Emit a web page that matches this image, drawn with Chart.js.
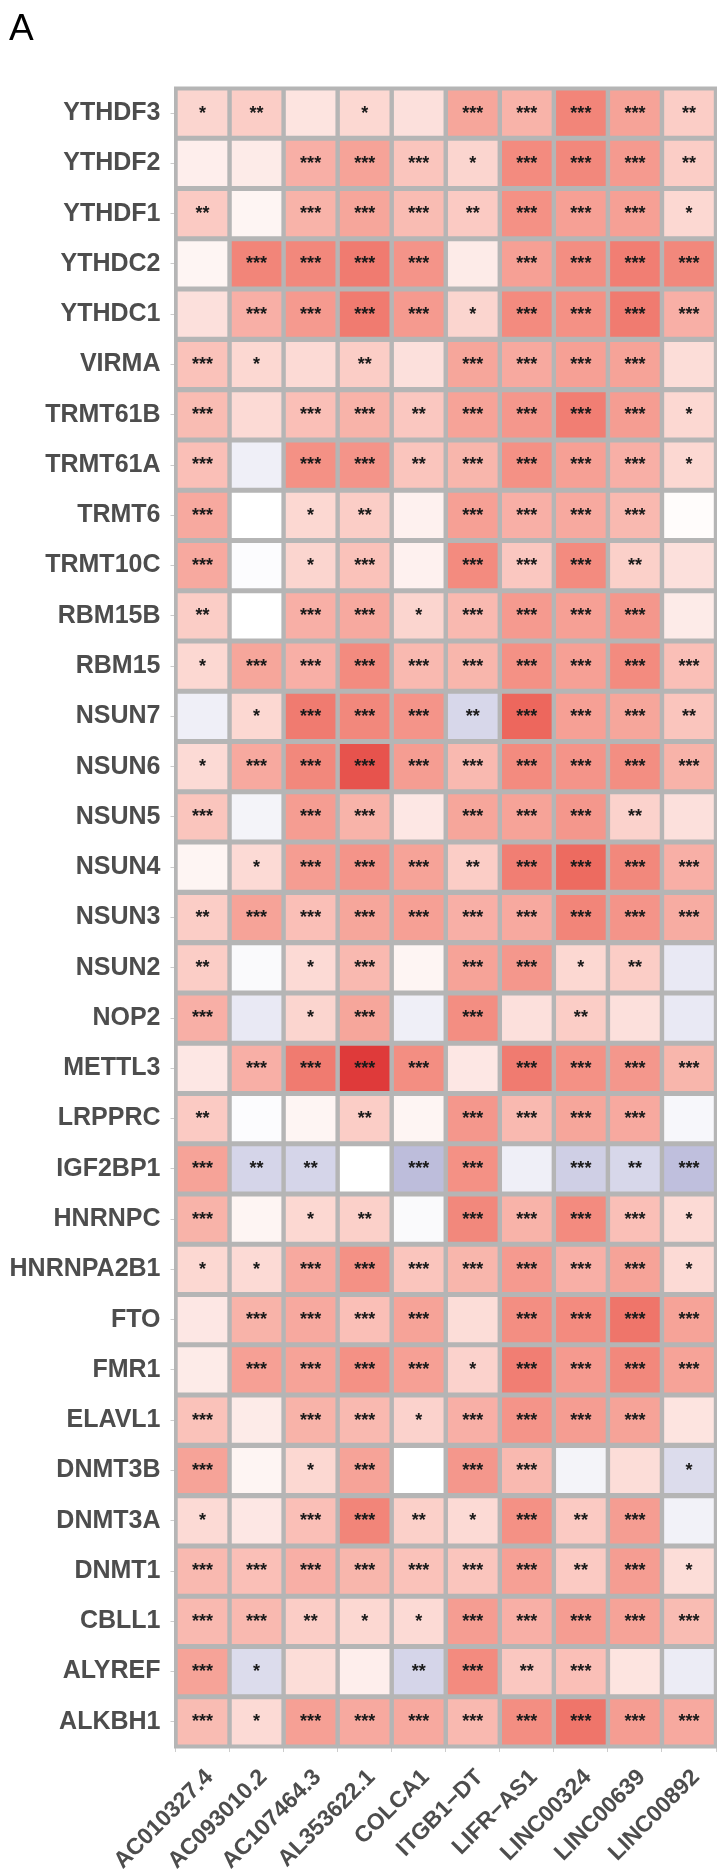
<!DOCTYPE html>
<html lang="en">
  <head>
    <meta charset="UTF-8" />
    <title>m6A regulators vs lncRNAs</title>
    <script src="https://cdn.jsdelivr.net/npm/chart.js@4.4.1/dist/chart.umd.min.js"></script>
    <style>
      body {
        margin: 0;
        background: #ffffff;
      }
      #wrap {
        width: 717px;
        height: 1871px;
      }
    </style>
  </head>
  <body>
    <div id="wrap"><canvas id="heat" width="717" height="1871"></canvas></div>
    <script>
      const cols = [
        "AC010327.4", "AC093010.2", "AC107464.3", "AL353622.1", "COLCA1",
        "ITGB1\u2212DT", "LIFR\u2212AS1", "LINC00324", "LINC00639", "LINC00892",
      ];

      const rows = [
        "YTHDF3", "YTHDF2", "YTHDF1", "YTHDC2", "YTHDC1", "VIRMA", "TRMT61B",
        "TRMT61A", "TRMT6", "TRMT10C", "RBM15B", "RBM15", "NSUN7", "NSUN6",
        "NSUN5", "NSUN4", "NSUN3", "NSUN2", "NOP2", "METTL3", "LRPPRC",
        "IGF2BP1", "HNRNPC", "HNRNPA2B1", "FTO", "FMR1", "ELAVL1", "DNMT3B",
        "DNMT3A", "DNMT1", "CBLL1", "ALYREF", "ALKBH1",
      ];

      // correlation estimates, one array per row (same order as rows)
      const corr = [
        [0.13, 0.16, 0.08, 0.12, 0.09, 0.29, 0.25, 0.40, 0.30, 0.16],
        [0.05, 0.06, 0.26, 0.30, 0.19, 0.13, 0.38, 0.39, 0.33, 0.16],
        [0.17, 0.03, 0.25, 0.29, 0.22, 0.17, 0.36, 0.31, 0.31, 0.12],
        [0.03, 0.40, 0.39, 0.43, 0.35, 0.06, 0.31, 0.37, 0.42, 0.39],
        [0.09, 0.26, 0.33, 0.43, 0.33, 0.13, 0.38, 0.36, 0.43, 0.26],
        [0.20, 0.12, 0.11, 0.16, 0.09, 0.29, 0.28, 0.31, 0.30, 0.10],
        [0.22, 0.11, 0.21, 0.25, 0.18, 0.30, 0.34, 0.42, 0.32, 0.12],
        [0.21, -0.06, 0.36, 0.35, 0.19, 0.24, 0.36, 0.31, 0.26, 0.12],
        [0.28, 0.00, 0.12, 0.16, 0.04, 0.31, 0.26, 0.28, 0.23, 0.01],
        [0.28, -0.01, 0.13, 0.20, 0.04, 0.38, 0.18, 0.38, 0.15, 0.09],
        [0.16, 0.00, 0.26, 0.28, 0.13, 0.23, 0.33, 0.31, 0.34, 0.06],
        [0.12, 0.29, 0.26, 0.38, 0.23, 0.24, 0.36, 0.31, 0.38, 0.21],
        [-0.06, 0.12, 0.43, 0.39, 0.35, -0.16, 0.49, 0.31, 0.29, 0.19],
        [0.11, 0.28, 0.39, 0.54, 0.32, 0.23, 0.38, 0.35, 0.37, 0.25],
        [0.19, -0.04, 0.32, 0.25, 0.07, 0.29, 0.30, 0.34, 0.14, 0.09],
        [0.03, 0.11, 0.32, 0.35, 0.30, 0.16, 0.42, 0.48, 0.39, 0.26],
        [0.16, 0.30, 0.21, 0.29, 0.31, 0.26, 0.28, 0.40, 0.35, 0.27],
        [0.16, -0.02, 0.11, 0.23, 0.03, 0.30, 0.34, 0.12, 0.16, -0.08],
        [0.26, -0.08, 0.13, 0.29, -0.06, 0.37, 0.09, 0.16, 0.09, -0.08],
        [0.07, 0.26, 0.43, 0.60, 0.37, 0.07, 0.43, 0.36, 0.34, 0.24],
        [0.17, -0.01, 0.03, 0.16, 0.03, 0.34, 0.23, 0.29, 0.28, -0.03],
        [0.30, -0.17, -0.17, 0.00, -0.27, 0.36, -0.06, -0.20, -0.16, -0.26],
        [0.25, 0.03, 0.12, 0.15, -0.02, 0.39, 0.25, 0.38, 0.21, 0.11],
        [0.12, 0.11, 0.28, 0.36, 0.19, 0.24, 0.33, 0.26, 0.30, 0.11],
        [0.07, 0.25, 0.28, 0.21, 0.30, 0.10, 0.37, 0.38, 0.45, 0.30],
        [0.06, 0.31, 0.30, 0.36, 0.31, 0.14, 0.42, 0.33, 0.39, 0.30],
        [0.20, 0.06, 0.25, 0.23, 0.14, 0.26, 0.35, 0.32, 0.30, 0.08],
        [0.30, 0.03, 0.12, 0.30, 0.00, 0.34, 0.23, -0.04, 0.10, -0.14],
        [0.11, 0.07, 0.21, 0.40, 0.15, 0.11, 0.36, 0.17, 0.32, -0.05],
        [0.23, 0.21, 0.26, 0.24, 0.20, 0.19, 0.31, 0.17, 0.32, 0.10],
        [0.23, 0.23, 0.16, 0.12, 0.11, 0.32, 0.26, 0.32, 0.30, 0.22],
        [0.30, -0.14, 0.10, 0.05, -0.17, 0.38, 0.18, 0.21, 0.08, -0.07],
        [0.22, 0.11, 0.31, 0.28, 0.28, 0.23, 0.37, 0.45, 0.32, 0.28],
      ];

      // number of significance stars per cell
      const sig = [
        [1, 2, 0, 1, 0, 3, 3, 3, 3, 2],
        [0, 0, 3, 3, 3, 1, 3, 3, 3, 2],
        [2, 0, 3, 3, 3, 2, 3, 3, 3, 1],
        [0, 3, 3, 3, 3, 0, 3, 3, 3, 3],
        [0, 3, 3, 3, 3, 1, 3, 3, 3, 3],
        [3, 1, 0, 2, 0, 3, 3, 3, 3, 0],
        [3, 0, 3, 3, 2, 3, 3, 3, 3, 1],
        [3, 0, 3, 3, 2, 3, 3, 3, 3, 1],
        [3, 0, 1, 2, 0, 3, 3, 3, 3, 0],
        [3, 0, 1, 3, 0, 3, 3, 3, 2, 0],
        [2, 0, 3, 3, 1, 3, 3, 3, 3, 0],
        [1, 3, 3, 3, 3, 3, 3, 3, 3, 3],
        [0, 1, 3, 3, 3, 2, 3, 3, 3, 2],
        [1, 3, 3, 3, 3, 3, 3, 3, 3, 3],
        [3, 0, 3, 3, 0, 3, 3, 3, 2, 0],
        [0, 1, 3, 3, 3, 2, 3, 3, 3, 3],
        [2, 3, 3, 3, 3, 3, 3, 3, 3, 3],
        [2, 0, 1, 3, 0, 3, 3, 1, 2, 0],
        [3, 0, 1, 3, 0, 3, 0, 2, 0, 0],
        [0, 3, 3, 3, 3, 0, 3, 3, 3, 3],
        [2, 0, 0, 2, 0, 3, 3, 3, 3, 0],
        [3, 2, 2, 0, 3, 3, 0, 3, 2, 3],
        [3, 0, 1, 2, 0, 3, 3, 3, 3, 1],
        [1, 1, 3, 3, 3, 3, 3, 3, 3, 1],
        [0, 3, 3, 3, 3, 0, 3, 3, 3, 3],
        [0, 3, 3, 3, 3, 1, 3, 3, 3, 3],
        [3, 0, 3, 3, 1, 3, 3, 3, 3, 0],
        [3, 0, 1, 3, 0, 3, 3, 0, 0, 1],
        [1, 0, 3, 3, 2, 1, 3, 2, 3, 0],
        [3, 3, 3, 3, 3, 3, 3, 2, 3, 1],
        [3, 3, 2, 1, 1, 3, 3, 3, 3, 3],
        [3, 1, 0, 0, 2, 3, 2, 3, 0, 0],
        [3, 1, 3, 3, 3, 3, 3, 3, 3, 3],
      ];

      const FONT = "'Liberation Sans', Arial, Helvetica, sans-serif";

      // colour ramp: blue-ish for negative, red for positive
      const posStops = [
        [0, "#ffffff"], [0.1, "#fcddd8"], [0.2, "#fac2ba"], [0.3, "#f6a398"],
        [0.4, "#f28579"], [0.5, "#ec645a"], [0.6, "#df3a3a"],
      ];
      const negStops = [
        [0, "#ffffff"], [0.1, "#e4e4f1"], [0.2, "#cfcfe5"], [0.3, "#b5b5d7"],
      ];

      function hexToRgb(h) {
        return [1, 3, 5].map((i) => parseInt(h.slice(i, i + 2), 16));
      }

      function colorFor(v) {
        const stops = v >= 0 ? posStops : negStops;
        const a = Math.min(Math.abs(v), stops[stops.length - 1][0]);
        for (let k = 1; k < stops.length; k++) {
          if (a <= stops[k][0]) {
            const t = (a - stops[k - 1][0]) / (stops[k][0] - stops[k - 1][0]);
            const c0 = hexToRgb(stops[k - 1][1]);
            const c1 = hexToRgb(stops[k][1]);
            const c = c0.map((x, i) => Math.round(x + (c1[i] - x) * t));
            return "rgb(" + c.join(",") + ")";
          }
        }
        return stops[stops.length - 1][1];
      }

      const panelBg = {
        id: "panelBg",
        beforeDatasetsDraw(chart) {
          const { ctx, chartArea: a } = chart;
          ctx.save();
          ctx.fillStyle = "#b5b5b5";
          ctx.fillRect(a.left - 1.5, a.top - 1.5, a.right - a.left + 3, a.bottom - a.top + 3);
          ctx.restore();
        },
      };

      const starLabels = {
        id: "starLabels",
        afterDatasetsDraw(chart) {
          const { ctx } = chart;
          const xs = chart.scales.x;
          const ys = chart.scales.y;
          ctx.save();
          ctx.font = "bold 18px " + FONT;
          ctx.fillStyle = "#1a1a1a";
          ctx.textAlign = "center";
          ctx.textBaseline = "alphabetic";
          sig.forEach((row, i) => {
            row.forEach((n, j) => {
              if (!n) return;
              const x = xs.getPixelForValue(j);
              const y = ys.getPixelForValue(i);
              ctx.fillText("*".repeat(n), x, y + 0.58 * 18 - 5);
            });
          });
          ctx.restore();
        },
      };

      const panelTag = {
        id: "panelTag",
        afterDraw(chart) {
          const { ctx } = chart;
          ctx.save();
          ctx.font = "37px " + FONT;
          ctx.fillStyle = "#000000";
          ctx.textAlign = "left";
          ctx.textBaseline = "alphabetic";
          ctx.fillText("A", 9, 40);
          ctx.restore();
        },
      };

      const datasets = rows.map((name, i) => ({
        label: name,
        data: cols.map(() => [i - 0.45, i + 0.45]),
        backgroundColor: corr[i].map(colorFor),
        borderWidth: 0,
      }));

      const ctx = document.getElementById("heat").getContext("2d");
      const chart = new Chart(ctx, {
        type: "bar",
        data: { labels: cols, datasets: datasets },
        options: {
          responsive: false,
          animation: false,
          devicePixelRatio: 1,
          layout: { padding: { top: 88, right: 1, left: 0, bottom: 0 } },
          datasets: {
            bar: { grouped: false, barPercentage: 0.918, categoryPercentage: 1 },
          },
          plugins: {
            legend: { display: false },
            tooltip: { enabled: false },
          },
          scales: {
            x: {
              type: "category",
              offset: true,
              border: { display: false },
              grid: { drawOnChartArea: false, tickLength: 5, color: "#cccccc" },
              ticks: {
                minRotation: 45,
                maxRotation: 45,
                autoSkip: false,
                padding: 12,
                labelOffset: 7,
                color: "#4d4d4d",
                font: { family: FONT, size: 23, weight: "bold" },
              },
              afterFit(s) {
                s.height = 124;
                s.paddingLeft = 0;
                s.paddingRight = 0;
              },
            },
            y: {
              type: "linear",
              reverse: true,
              min: -0.5,
              max: rows.length - 0.5,
              border: { display: false },
              grid: { drawOnChartArea: false, tickLength: 5, color: "#cccccc" },
              afterBuildTicks(s) {
                s.ticks = rows.map((_, i) => ({ value: i }));
              },
              ticks: {
                autoSkip: false,
                padding: 10,
                color: "#4d4d4d",
                font: { family: FONT, size: 25, weight: "bold" },
                callback: (v) => rows[v],
              },
              afterFit(s) {
                s.width = 175.5;
              },
            },
          },
        },
        plugins: [panelBg, starLabels, panelTag],
      });
    </script>
  </body>
</html>
